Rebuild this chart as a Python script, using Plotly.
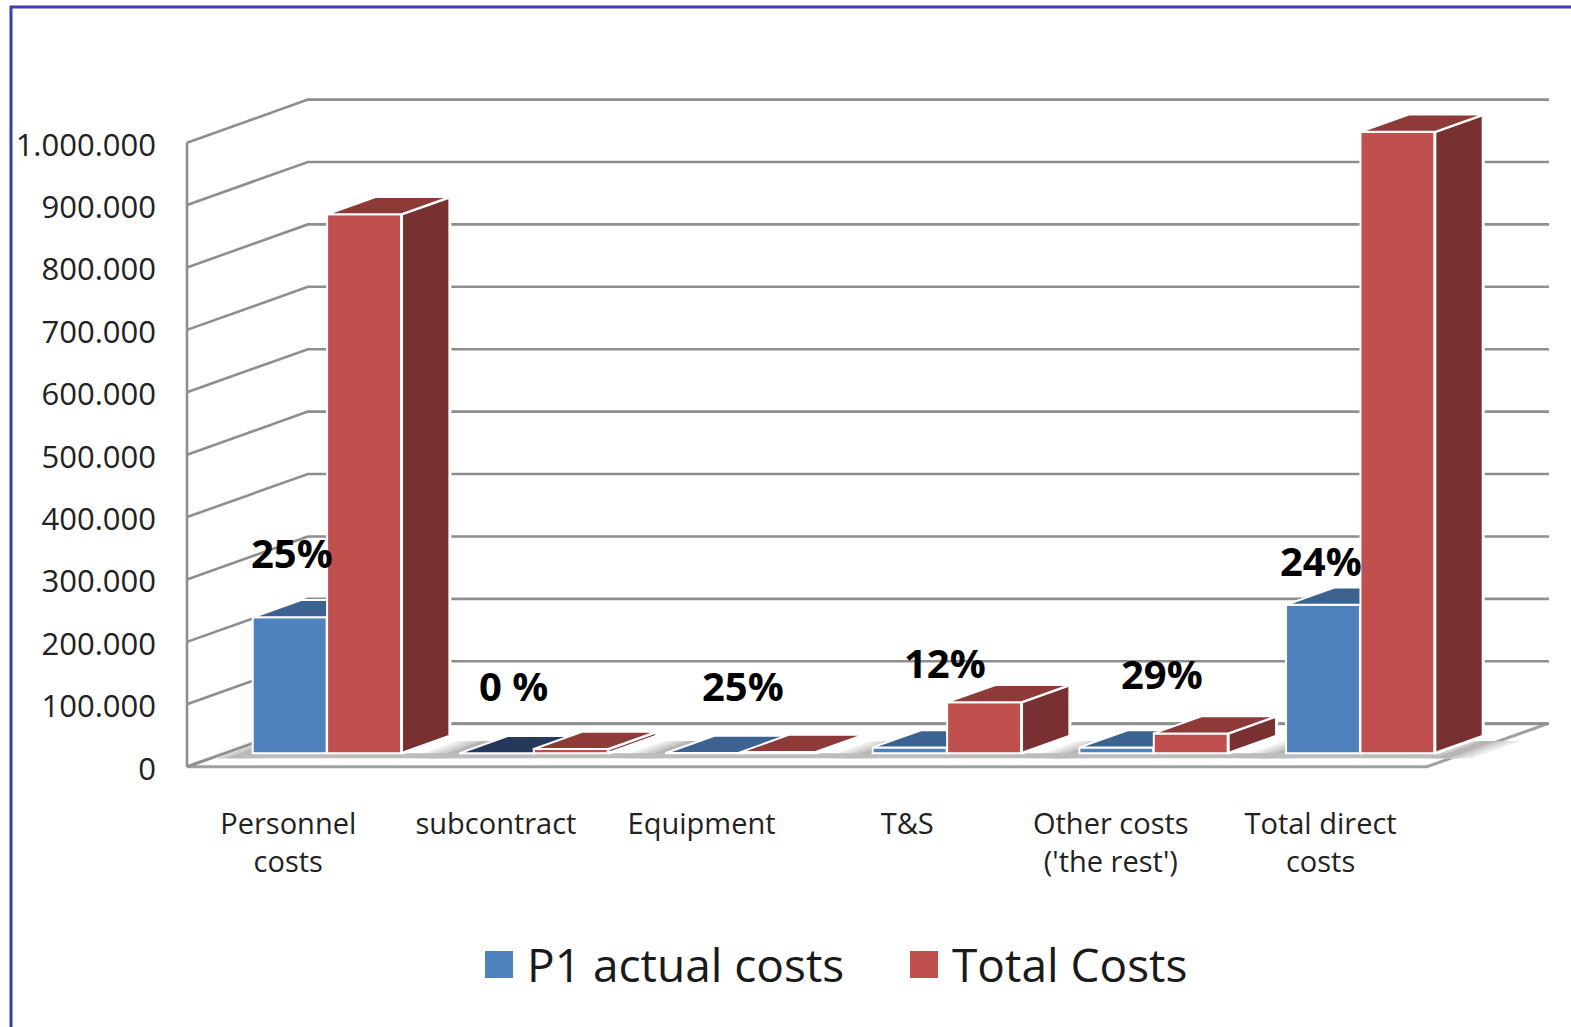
import plotly.graph_objects as go

# ---------- data ----------
categories = ["Personnel<br>costs", "subcontract", "Equipment", "T&S", "Other costs<br>('the rest')", "Total direct<br>costs"]
p1_actual = [218000, 0, 500, 9500, 9500, 238000]
total_costs = [864000, 7000, 2000, 82000, 32000, 996000]
percent_labels = ["25%", "0 %", "25%", "12%", "29%", "24%"]
y_ticks = [0, 100000, 200000, 300000, 400000, 500000, 600000, 700000, 800000, 900000, 1000000]
y_tick_text = ["0", "100.000", "200.000", "300.000", "400.000", "500.000", "600.000", "700.000", "800.000", "900.000", "1.000.000"]
p1_name = "P1 actual costs"
total_name = "Total Costs"

# ---------- page geometry / oblique projection ----------
W, H = 1571, 1027
L, R, T, B = 184, 20, 95, 257
X_RANGE = [-0.0145, 6.6]
Y_RANGE = [-5300, 1076400]
DEPTH_X = 0.585      # full floor depth, category units
DEPTH_Y = 69000      # full floor depth, value units
FRONT = 0.31         # bar front plane, fraction of depth
BAR_D = 0.40         # bar depth, fraction of depth
BAR_W = 0.36
BLUE_OFF = -0.182
RED_OFF = BLUE_OFF + BAR_W

positions = [i + 0.5 for i in range(len(categories))]
tick_positions = [0.49, 1.495, 2.49, 3.485, 4.47, 5.485]
base_y = FRONT * DEPTH_Y
ddx, ddy = BAR_D * DEPTH_X, BAR_D * DEPTH_Y

# percent label anchors
label_x = [0.508, 1.58, 2.688, 3.668, 4.718, 5.488]
label_y = [343000, 130000, 130000, 167000, 150000, 330000]

GRID = "#8e8e8e"
BLUE, BLUE_TOP, NAVY_TOP = "#4F81BD", "#3C6291", "#24395B"
RED, RED_TOP, RED_SIDE = "#C0504D", "#8E3A38", "#783130"
BORDER = "#3B3FA8"


def px(x):
    return (x - L) / (W - L - R)


def py(y):
    return 1 - (y - T) / (H - T - B)


fig = go.Figure()


def poly(xs, ys, fill, line="white", width=2.0, ax=""):
    fig.add_trace(go.Scatter(
        x=xs, y=ys, mode="lines", fill="toself", fillcolor=fill,
        line=dict(color=line, width=width), hoverinfo="skip", showlegend=False,
        xaxis="x" + ax, yaxis="y" + ax))


# floor slab
n = len(categories)
poly([0, n, n + DEPTH_X, DEPTH_X, 0], [0, 0, DEPTH_Y, DEPTH_Y, 0], "white", "#a0a0a0", 3)

# floor shadows: stepped greys imitate the soft gradient
SHADOW_STEPS = [(0.30, "#ececec"), (0.23, "#dedede"), (0.16, "#cdcdcd"), (0.08, "#b6b6b6")]
drop = 8000
shadow_centres = [positions[0] - 1 + RED_OFF + BAR_W + 0.19]
shadow_centres += [p + RED_OFF + BAR_W + 0.19 for p in positions[:-1]]
shadow_centres += [positions[-1] + RED_OFF + BAR_W + 0.03]
for xc in shadow_centres:
    for w, c in SHADOW_STEPS:
        x0 = xc - w / 2
        poly([x0, x0 + w, x0 + w + ddx, x0 + ddx],
             [base_y - drop, base_y - drop, base_y + ddy - drop, base_y + ddy - drop], c, c, 0)
poly([BLUE_OFF + positions[0] - 0.06, RED_OFF + BAR_W + positions[-1] + 0.02,
      RED_OFF + BAR_W + positions[-1] + 0.02, BLUE_OFF + positions[0] - 0.06],
     [base_y - drop, base_y - drop, base_y, base_y], "#bcbcbc", "#bcbcbc", 0)

# wall gridlines and the upright edge of the wall
gx, gy = [0, 0, None], [0, y_ticks[-1], None]
for v in y_ticks:
    gx += [0, DEPTH_X, X_RANGE[1] - 0.01, None]
    gy += [v, v + DEPTH_Y, v + DEPTH_Y, None]
fig.add_trace(go.Scatter(x=gx, y=gy, mode="lines", line=dict(color=GRID, width=2.6),
                         hoverinfo="skip", showlegend=False))


def bars(values, off, front, top, side, name, ax, top_colors=None):
    fig.add_trace(go.Bar(
        x=positions, y=values, base=base_y, offset=off, width=BAR_W, name=name,
        marker=dict(color=front, line=dict(color="white", width=2)),
        showlegend=False, xaxis="x" + ax, yaxis="y" + ax))
    for i, (p, v) in enumerate(zip(positions, values)):
        x0, x1 = p + off, p + off + BAR_W
        y1 = base_y + v
        tc = top_colors[i] if top_colors else top
        poly([x1, x1 + ddx, x1 + ddx, x1, x1], [base_y, base_y + ddy, y1 + ddy, y1, base_y], side, width=3, ax=ax)
        poly([x0, x1, x1 + ddx, x0 + ddx, x0], [y1, y1, y1 + ddy, y1 + ddy, y1], tc, ax=ax)


blue_tops = [NAVY_TOP if v == 0 else BLUE_TOP for v in p1_actual]
bars(p1_actual, BLUE_OFF, BLUE, BLUE_TOP, BLUE_TOP, p1_name, "2", blue_tops)
bars(total_costs, RED_OFF, RED, RED_TOP, RED_SIDE, total_name, "3")

annotations = [
    dict(x=x, y=y, text=t, showarrow=False, xref="x", yref="y",
         font=dict(family="Open Sans", size=40, color="black", weight="bold"))
    for x, y, t in zip(label_x, label_y, percent_labels)
]

# legend
legend_items = [(p1_name, BLUE, 485, 525), (total_name, RED, 910, 950)]
shapes = [
    dict(type="line", xref="paper", yref="paper", x0=px(11), x1=px(11), y0=py(6), y1=py(H), line=dict(color=BORDER, width=3)),
    dict(type="line", xref="paper", yref="paper", x0=px(10), x1=px(W), y0=py(7), y1=py(7), line=dict(color=BORDER, width=3)),
]
for name, color, sx, tx in legend_items:
    shapes.append(dict(type="rect", xref="paper", yref="paper", x0=px(sx), x1=px(sx + 28),
                       y0=py(951), y1=py(978), fillcolor=color, line=dict(width=0)))
    annotations.append(dict(x=px(tx), y=py(964), text=name, showarrow=False, xref="paper", yref="paper",
                            xanchor="left", yanchor="middle",
                            font=dict(family="Open Sans", size=46, color="#1a1a1a")))

hidden = dict(visible=False, fixedrange=True)
fig.update_layout(
    width=W, height=H, autosize=False,
    margin=dict(l=L, r=R, t=T, b=B, pad=0),
    paper_bgcolor="white", plot_bgcolor="white",
    barmode="overlay", showlegend=False,
    font=dict(family="Open Sans", color="#1a1a1a"),
    xaxis=dict(range=X_RANGE, tickmode="array", tickvals=tick_positions, ticktext=categories,
               showgrid=False, zeroline=False, showline=False, ticks="",
               ticklabelstandoff=34, tickfont=dict(size=29, family="Open Sans", color="#222222"),
               tickangle=0, fixedrange=True),
    yaxis=dict(range=Y_RANGE, tickmode="array", tickvals=y_ticks, ticktext=y_tick_text,
               showgrid=False, zeroline=False, showline=False, ticks="",
               ticklabelstandoff=27, ticklabelshift=2,
               tickfont=dict(size=31, family="Open Sans", color="#222222"),
               fixedrange=True),
    xaxis2=dict(range=X_RANGE, overlaying="x", anchor="y2", **hidden),
    yaxis2=dict(range=Y_RANGE, overlaying="y", anchor="x2", **hidden),
    xaxis3=dict(range=X_RANGE, overlaying="x", anchor="y3", **hidden),
    yaxis3=dict(range=Y_RANGE, overlaying="y", anchor="x3", **hidden),
    annotations=annotations, shapes=shapes,
)

fig.write_html("out.html", config=dict(displayModeBar=False),
               post_script="document.body.style.margin='0';document.body.style.overflow='hidden';")
